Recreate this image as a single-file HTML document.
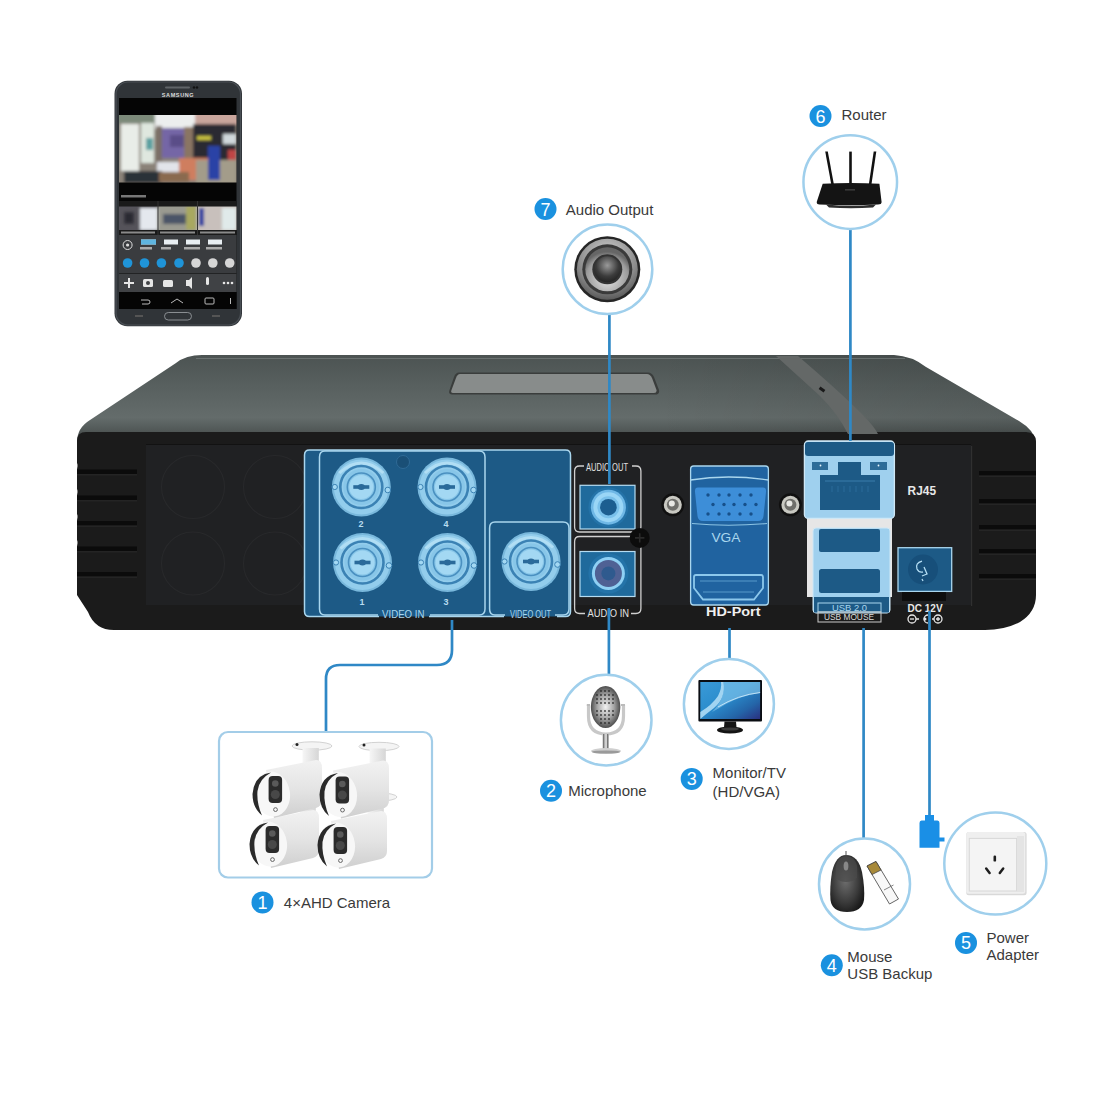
<!DOCTYPE html>
<html><head><meta charset="utf-8">
<style>
html,body{margin:0;padding:0;background:#fff;width:1100px;height:1100px;overflow:hidden}
svg{display:block}
text{font-family:"Liberation Sans",sans-serif}
</style></head>
<body>
<svg width="1100" height="1100" viewBox="0 0 1100 1100">
<defs>
  <linearGradient id="topg" x1="0" y1="0" x2="0" y2="1">
    <stop offset="0" stop-color="#4c5352"/>
    <stop offset="0.3" stop-color="#565e5d"/>
    <stop offset="0.72" stop-color="#646c6b"/>
    <stop offset="0.86" stop-color="#525958"/>
    <stop offset="1" stop-color="#3c4141"/>
  </linearGradient>
  <radialGradient id="bncg" cx="0.45" cy="0.4" r="0.6">
    <stop offset="0" stop-color="#c8e6f6"/>
    <stop offset="0.6" stop-color="#9fd0ec"/>
    <stop offset="1" stop-color="#7fb8dc"/>
  </radialGradient>
  <radialGradient id="spkg" cx="0.5" cy="0.35" r="0.7">
    <stop offset="0" stop-color="#9a9a9a"/>
    <stop offset="0.6" stop-color="#3c3c3c"/>
    <stop offset="1" stop-color="#1e1e1e"/>
  </radialGradient>
  <radialGradient id="spkring" cx="0.5" cy="0.3" r="0.7">
    <stop offset="0" stop-color="#d8d8d8"/>
    <stop offset="0.7" stop-color="#8a8a8a"/>
    <stop offset="1" stop-color="#5a5a5a"/>
  </radialGradient>
  <radialGradient id="spkring2" cx="0.5" cy="0.7" r="0.6">
    <stop offset="0" stop-color="#e6e6e6"/>
    <stop offset="0.8" stop-color="#9a9a9a"/>
    <stop offset="1" stop-color="#666"/>
  </radialGradient>
  <radialGradient id="micg" cx="0.5" cy="0.5" r="0.55">
    <stop offset="0" stop-color="#f2f2f2"/>
    <stop offset="0.5" stop-color="#a8a8a8"/>
    <stop offset="1" stop-color="#3a3a3a"/>
  </radialGradient>
  <linearGradient id="monig" x1="0" y1="0" x2="1" y2="1">
    <stop offset="0" stop-color="#3a9ad8"/>
    <stop offset="0.45" stop-color="#2a8ccc"/>
    <stop offset="0.75" stop-color="#2465a8"/>
    <stop offset="1" stop-color="#2a3080"/>
  </linearGradient>
  <radialGradient id="mouseg" cx="0.45" cy="0.45" r="0.6">
    <stop offset="0" stop-color="#6e6e6e"/>
    <stop offset="0.65" stop-color="#3a3a3a"/>
    <stop offset="1" stop-color="#1a1a1a"/>
  </radialGradient>
  <linearGradient id="camg" x1="0" y1="0" x2="0" y2="1">
    <stop offset="0" stop-color="#f2f2f2"/>
    <stop offset="0.5" stop-color="#e4e4e4"/>
    <stop offset="1" stop-color="#cfcfcf"/>
  </linearGradient>
  <linearGradient id="topdark" x1="0" y1="0" x2="1" y2="0">
    <stop offset="0" stop-color="#000" stop-opacity="0"/>
    <stop offset="0.6" stop-color="#000" stop-opacity="0"/>
    <stop offset="0.85" stop-color="#000" stop-opacity="0.08"/>
    <stop offset="1" stop-color="#000" stop-opacity="0.12"/>
  </linearGradient>
  <linearGradient id="armg" x1="0" y1="0" x2="1" y2="0">
    <stop offset="0" stop-color="#f6f6f6"/>
    <stop offset="1" stop-color="#d6d6d6"/>
  </linearGradient>
</defs>

<!-- ============ DVR BOX ============ -->
<g id="dvr">
  <!-- top surface -->
  <path d="M202,355 L894,355 Q912,356 926,367 L1019,421 Q1034,430 1036,442 L77,442 Q77,428 90,420 L176,363 Q186,355 202,355 Z" fill="url(#topg)"/>
  <path d="M202,355 L894,355 Q912,356 926,367 L1019,421 Q1034,430 1036,442 L77,442 Q77,428 90,420 L176,363 Q186,355 202,355 Z" fill="url(#topdark)"/>
  <path d="M196,358.5 L905,358.5" stroke="#828a89" stroke-width="1" opacity="0.55"/>
  <!-- front face -->
  <path d="M86,432 L1026,432 Q1036,432 1036,442 L1036,595 Q1036,612 1020,622 Q1005,630 985,630 L114,630 Q95,630 88,612 L77,595 L77,441 Q77,432 86,432 Z" fill="#1b1b1b"/>
  <!-- inner panel -->
  <rect x="146" y="444" width="825" height="161" fill="#202123"/>
  <rect x="146" y="444" width="825" height="1" fill="#121212"/>
  <!-- left vents -->
  <g fill="#0b0b0b">
    <rect x="77" y="469.5" width="60" height="4.5"/>
    <rect x="77" y="495.5" width="60" height="4.5"/>
    <rect x="77" y="521" width="60" height="4.5"/>
    <rect x="77" y="546.5" width="60" height="4.5"/>
    <rect x="77" y="572" width="60" height="4.5"/>
  </g>
  <g fill="#242424">
    <rect x="77" y="474" width="60" height="1.5"/>
    <rect x="77" y="500" width="60" height="1.5"/>
    <rect x="77" y="525.5" width="60" height="1.5"/>
    <rect x="77" y="551" width="60" height="1.5"/>
    <rect x="77" y="576.5" width="60" height="1.5"/>
  </g>
  <g fill="#fff">
    <path d="M76,461 Q79,466 76,471 Z"/>
    <path d="M76,487 Q79,492 76,497 Z"/>
    <path d="M76,512 Q79,517 76,522 Z"/>
    <path d="M76,538 Q79,543 76,548 Z"/>
  </g>
  <g fill="none" stroke="#28292b" stroke-width="1.1">
    <circle cx="193" cy="487" r="31.5"/>
    <circle cx="275" cy="487" r="31.5"/>
    <circle cx="193" cy="563.5" r="31.5"/>
    <circle cx="275" cy="563.5" r="31.5"/>
  </g>
  <rect x="971" y="446" width="1.2" height="160" fill="#303030"/>
  <g fill="#0b0b0b">
    <rect x="979" y="471" width="57" height="4.5"/>
    <rect x="979" y="499" width="57" height="4.5"/>
    <rect x="979" y="525" width="57" height="4.5"/>
    <rect x="979" y="549" width="57" height="4.5"/>
    <rect x="979" y="574" width="57" height="4.5"/>
  </g>
  <g fill="#252525">
    <rect x="979" y="475.5" width="57" height="1.5"/>
    <rect x="979" y="503.5" width="57" height="1.5"/>
    <rect x="979" y="529.5" width="57" height="1.5"/>
    <rect x="979" y="553.5" width="57" height="1.5"/>
    <rect x="979" y="578.5" width="57" height="1.5"/>
  </g>
  <!-- top vent -->
  <path d="M459,372.5 L648,372.5 Q652,372.5 654,377 L659,390 Q660,394.5 655,394.5 L452,394.5 Q448,394.5 449.5,390 L454,377 Q455.5,372.5 459,372.5 Z" fill="#3a3d3c"/>
  <path d="M460,374 L647,374 Q650,374 652,378 L656.5,390 Q657,393 654,393 L453,393 Q450.5,393 451.5,390 L456,378 Q457.5,374 460,374 Z" fill="#888c8b"/>
  <!-- diagonal stripe -->
  <path d="M776,356 L798,356 Q840,392 862,414 Q874,426 878,434 L848,434 Q838,414 820,396 Z" fill="#646867"/>
  <rect x="819" y="388" width="6" height="3" fill="#1a1a1a" transform="rotate(35 822 389.5)"/>

  <!-- VIDEO blue region -->
  <rect x="304.5" y="450" width="266" height="166.5" rx="5" fill="#1d5a86"/>
  <path d="M379,616.5 L309.5,616.5 Q304.5,616.5 304.5,611.5 L304.5,455 Q304.5,450 309.5,450 L565.5,450 Q570.5,450 570.5,455 L570.5,611.5 Q570.5,616.5 565.5,616.5 L557,616.5 M504,616.5 L429,616.5" fill="none" stroke="#a9d6ee" stroke-width="1.5"/>
  <path d="M378,615 L325,615 Q319.5,615 319.5,609 L319.5,457 Q319.5,451 325,451 L479,451 Q485,451 485,457 L485,609 Q485,615 479,615 L430,615" fill="none" stroke="#a9d6ee" stroke-width="1.5"/>
  <path d="M505,615 L495,615 Q489.6,615 489.6,609 L489.6,528 Q489.6,522 495,522 L563,522 Q569,522 569,528 L569,609 Q569,615 563,615 L555,615" fill="none" stroke="#a9d6ee" stroke-width="1.5"/>
  <defs>
  <g id="bncc">
    <circle r="29.5" fill="#79b8dc"/>
    <circle r="27.5" fill="#93cdec"/>
    <path d="M-22,-14 Q0,-34 22,-14" fill="none" stroke="#b9e2f6" stroke-width="3" opacity="0.8"/>
    <circle r="21" fill="none" stroke="#3b82b4" stroke-width="2.6"/>
    <circle r="18" fill="#88c6e8"/>
    <circle r="14" fill="none" stroke="#4a90c0" stroke-width="1.6"/>
    <circle r="12" fill="#a3d8f3"/>
    <rect x="-8" y="-1.8" width="16" height="3.6" fill="#2a6a9a"/>
    <ellipse rx="3.6" ry="3" fill="#2a6a9a"/>
    <circle cx="-26.5" cy="0" r="2.6" fill="#a3d8f3" stroke="#3b82b4" stroke-width="1"/>
    <circle cx="26.5" cy="3" r="2.8" fill="#a3d8f3" stroke="#3b82b4" stroke-width="1"/>
  </g>
  </defs>
  <circle cx="403" cy="462" r="6.5" fill="#1a4f76" stroke="#2f6a96" stroke-width="1"/>
  <use href="#bncc" x="361.3" y="487"/>
  <use href="#bncc" x="447" y="487"/>
  <use href="#bncc" x="362.5" y="562.5"/>
  <use href="#bncc" x="447.5" y="562.5"/>
  <use href="#bncc" x="531" y="561.5"/>
  <g fill="#b8dcf0" font-size="9" font-weight="bold" text-anchor="middle">
    <text x="361" y="526.5">2</text>
    <text x="446" y="526.5">4</text>
    <text x="362" y="604.5">1</text>
    <text x="446" y="604.5">3</text>
  </g>
  <g fill="#a9d6ee" font-size="10" text-anchor="middle">
    <text x="382" y="618" text-anchor="start" font-size="11" textLength="42.5" lengthAdjust="spacingAndGlyphs">VIDEO IN</text>
    <text x="510" y="618" text-anchor="start" font-size="11" textLength="41" lengthAdjust="spacingAndGlyphs">VIDEO OUT</text>
  </g>

  <!-- AUDIO -->
  <path d="M584,466 L579.6,466 Q574.6,466 574.6,471 L574.6,527 Q574.6,532 579.6,532 L635.9,532 Q640.9,532 640.9,527 L640.9,471 Q640.9,466 635.9,466 L632,466" fill="none" stroke="#d0d0d0" stroke-width="1.3"/>
  <path d="M585,613.5 L579.6,613.5 Q574.6,613.5 574.6,608.5 L574.6,541.5 Q574.6,536.5 579.6,536.5 L635.9,536.5 Q640.9,536.5 640.9,541.5 L640.9,608.5 Q640.9,613.5 635.9,613.5 L631,613.5" fill="none" stroke="#d0d0d0" stroke-width="1.3"/>
  <g fill="#e2e2e2" font-size="10.5" text-anchor="middle">
    <text x="586" y="470.5" text-anchor="start" textLength="42" lengthAdjust="spacingAndGlyphs">AUDIO OUT</text>
    <text x="587.4" y="617" text-anchor="start" textLength="41.6" lengthAdjust="spacingAndGlyphs">AUDIO IN</text>
  </g>
  <rect x="580" y="485.3" width="55" height="43.7" fill="#1f6a9c" stroke="#b5dcf2" stroke-width="1.2"/>
  <circle cx="608.4" cy="507.2" r="20" fill="#2473a8"/>
  <circle cx="608.4" cy="507.2" r="17.5" fill="#6fb8e6"/>
  <circle cx="608.4" cy="507.2" r="15" fill="#9ad6f6"/>
  <circle cx="608.4" cy="507.2" r="11" fill="#79c0ea"/>
  <circle cx="608.4" cy="507.2" r="8.3" fill="#1c5e90"/>
  <rect x="580" y="551.5" width="55" height="45" fill="#1f6a9c" stroke="#b5dcf2" stroke-width="1.2"/>
  <circle cx="608.4" cy="573.4" r="20" fill="#2473a8"/>
  <circle cx="608.4" cy="573.4" r="16.5" fill="#8fd0f4"/>
  <circle cx="608.4" cy="573.4" r="13.5" fill="#4f6194"/>
  <circle cx="608.4" cy="573.4" r="7" fill="#2f5a8e"/>
  <circle cx="639.7" cy="537.9" r="10" fill="#0c0c0c"/>
  <path d="M635,537.9 L644.4,537.9 M639.7,533.2 L639.7,542.6" stroke="#2a2a2a" stroke-width="1.6"/>
  <!-- nuts -->
  <circle cx="672.8" cy="504.8" r="11.5" fill="#101010"/>
  <circle cx="672.8" cy="504.8" r="9" fill="#c9c9c2"/>
  <circle cx="672.8" cy="504.8" r="6" fill="#6e6e6a"/>
  <circle cx="671.8" cy="503.5" r="3" fill="#e8e8e4"/>
  <circle cx="790.4" cy="504.8" r="11.5" fill="#101010"/>
  <circle cx="790.4" cy="504.8" r="9" fill="#c9c9c2"/>
  <circle cx="790.4" cy="504.8" r="6" fill="#6e6e6a"/>
  <circle cx="789.4" cy="503.5" r="3" fill="#e8e8e4"/>

  <!-- VGA / HDMI -->
  <rect x="690.6" y="466" width="77.8" height="139" rx="3" fill="#2063a0" stroke="#a9d6ee" stroke-width="1.3"/>
  <path d="M690.6,480 Q728,474 768.4,480" fill="none" stroke="#a9d6ee" stroke-width="1.4"/>
  <path d="M692,523.5 Q728,527 767,523.5" fill="none" stroke="#8cc4e4" stroke-width="1.2"/>
  <path d="M698,487.6 L763,487.6 Q766.5,487.6 766,492 L763.5,516 Q763,521 758,521 L703,521 Q698,521 697.5,516 L695,492 Q694.5,487.6 698,487.6 Z" fill="#3d8ed8"/>
  <g fill="#17508a">
    <circle cx="708" cy="495" r="1.7"/><circle cx="719" cy="495" r="1.7"/><circle cx="729" cy="495" r="1.7"/><circle cx="740" cy="495" r="1.7"/><circle cx="751" cy="495" r="1.7"/>
    <circle cx="713" cy="504.5" r="1.7"/><circle cx="724" cy="504.5" r="1.7"/><circle cx="734" cy="504.5" r="1.7"/><circle cx="745" cy="504.5" r="1.7"/><circle cx="756" cy="504.5" r="1.7"/>
    <circle cx="708" cy="514" r="1.7"/><circle cx="719" cy="514" r="1.7"/><circle cx="729" cy="514" r="1.7"/><circle cx="740" cy="514" r="1.7"/><circle cx="751" cy="514" r="1.7"/>
  </g>
  <text x="711.4" y="542" fill="#a9d6ee" font-size="13" textLength="29" lengthAdjust="spacingAndGlyphs">VGA</text>
  <path d="M696,575 L761,575 Q763,575 763,577 L763,588 L754,599.5 L703,599.5 L694,588 L694,577 Q694,575 696,575 Z" fill="none" stroke="#8cc8ec" stroke-width="1.8"/>
  <path d="M700,581 L757,581 M703,592 L754,592" stroke="#6fb0dc" stroke-width="1" opacity="0.7"/>
  <text x="706" y="615.6" fill="#f0f0f0" font-size="12" font-weight="bold" textLength="54.5" lengthAdjust="spacingAndGlyphs">HD-Port</text>

  <!-- RJ45 -->
  <rect x="807" y="518" width="85" height="79" fill="#e6e6e6"/>
  <rect x="804.4" y="441" width="90" height="77.4" rx="4" fill="#9fd0ee" stroke="#cfe8f6" stroke-width="1.3"/>
  <rect x="805" y="442" width="89" height="14" rx="3" fill="#1d5a86"/>
  <path d="M820,475 L838,475 L838,462 L861,462 L861,475 L880,475 L880,510 L820,510 Z" fill="#1d5a86"/>
  <rect x="812" y="462" width="16" height="8" fill="#2d6c98"/>
  <rect x="870" y="462" width="17" height="8" fill="#2d6c98"/>
  <circle cx="820.5" cy="465.5" r="0.9" fill="#e8f4fa"/>
  <circle cx="878.5" cy="465.5" r="0.9" fill="#e8f4fa"/>
  <path d="M825,481 L875,481" stroke="#3a7cab" stroke-width="1"/>
  <g stroke="#2e6e9e" stroke-width="0.8"><path d="M832,486 L832,492 M838,486 L838,492 M844,486 L844,492 M850,486 L850,492 M856,486 L856,492 M862,486 L862,492 M868,486 L868,492"/></g>
  <!-- USB -->
  <rect x="813" y="528" width="77" height="85" rx="3" fill="#9fd0ee" stroke="#cfe8f6" stroke-width="1"/>
  <rect x="819" y="529" width="61" height="23" rx="2" fill="#1d5a86"/>
  <rect x="819" y="569" width="61" height="24" rx="2.5" fill="#1d5a86"/>
  <rect x="814" y="597" width="75" height="15.5" fill="#1d5a86"/>
  <rect x="818" y="603" width="63" height="9" fill="none" stroke="#a9d6ee" stroke-width="1"/>
  <text x="832" y="611" fill="#a9d6ee" font-size="9.5" textLength="35" lengthAdjust="spacingAndGlyphs">USB 2.0</text>
  <rect x="818" y="612" width="63" height="10" fill="none" stroke="#cccccc" stroke-width="1"/>
  <text x="824" y="620.4" fill="#dddddd" font-size="9" textLength="50" lengthAdjust="spacingAndGlyphs">USB MOUSE</text>

  <text x="907.6" y="495" fill="#e8e8e8" font-size="12" font-weight="bold" textLength="28.4" lengthAdjust="spacingAndGlyphs">RJ45</text>
  <!-- power jack -->
  <rect x="898" y="547.7" width="53.7" height="43.7" fill="#1d5a86" stroke="#a9d6ee" stroke-width="1.3"/>
  <circle cx="923" cy="569.5" r="15" fill="#174f7a"/>
  <path d="M922,561 Q915,563 917,569 Q919,573 923,572 M924,567 L927,574 L922,576 M922,579 L923,581" stroke="#b5def4" stroke-width="1.3" fill="none"/>
  <rect x="902" y="592" width="44" height="9" fill="#0e0e0e"/>
  <text x="907.6" y="612" fill="#e8e8e8" font-size="10.5" font-weight="bold" textLength="35" lengthAdjust="spacingAndGlyphs">DC 12V</text>
  <g fill="none" stroke="#e8e8e8" stroke-width="1.3">
    <circle cx="912" cy="619" r="4"/><path d="M910,619 L914,619"/>
    <circle cx="938" cy="619" r="4"/><path d="M936,619 L940,619 M938,617 L938,621"/>
    <path d="M916,619 L919,619 M932,619 L934,619"/>
    <path d="M928,615 A4,4 0 1 0 928,623"/>
  </g>
  <circle cx="925" cy="619" r="1.5" fill="#e8e8e8"/>
</g>

<!-- ============ CONNECTION LINES ============ -->
<g stroke="#2f88c6" stroke-width="2.7" fill="none">
  <line x1="609.4" y1="313.5" x2="609.4" y2="484"/>
  <line x1="850.4" y1="229" x2="850.4" y2="441"/>
  <line x1="608.9" y1="608" x2="608.9" y2="675"/>
  <line x1="729.5" y1="628" x2="729.5" y2="659.5"/>
  <line x1="863.6" y1="628" x2="863.6" y2="838.5"/>
  <line x1="929.5" y1="611" x2="929.5" y2="817"/>
  <path d="M452,620 L452,650 Q452,665 437,665 L340,665 Q326,665 326,679 L326,731"/>
</g>
<!-- plug -->
<path d="M925,815 L934,815 L934,820.5 L937.5,820.5 Q939.5,820.5 939.5,823 L939.5,837.5 L944.5,837.5 L944.5,841.5 L939.5,841.5 L939.5,847.7 L919.5,847.7 L919.5,823 Q919.5,820.5 921.5,820.5 L925,820.5 Z" fill="#1a8fe6"/>

<!-- ============ CIRCLES ============ -->
<g fill="none" stroke="#9fcfec" stroke-width="2.5">
  <circle cx="607.5" cy="269.2" r="44.8"/>
  <circle cx="850.25" cy="182.1" r="46.8"/>
  <circle cx="606.2" cy="720.1" r="45.3"/>
  <circle cx="728.9" cy="703.9" r="45"/>
  <circle cx="864.5" cy="884" r="45.5"/>
  <circle cx="995.3" cy="863.5" r="51"/>
</g>
<rect x="219" y="732" width="213" height="145.5" rx="9" fill="none" stroke="#a3cde8" stroke-width="2.2"/>

<!-- ============ LABELS ============ -->
<g fill="#1a91df">
  <circle cx="545.5" cy="209" r="11"/>
  <circle cx="820.5" cy="116" r="11"/>
  <circle cx="262.5" cy="902.4" r="11"/>
  <circle cx="551" cy="790.8" r="11"/>
  <circle cx="691.7" cy="778.9" r="11"/>
  <circle cx="831.8" cy="965.3" r="11"/>
  <circle cx="966" cy="942.9" r="11"/>
</g>
<g fill="#fff" font-size="18" text-anchor="middle">
  <text x="545.5" y="215.5">7</text>
  <text x="820.5" y="122.5">6</text>
  <text x="262.5" y="908.9">1</text>
  <text x="551" y="797.3">2</text>
  <text x="691.7" y="785.4">3</text>
  <text x="831.8" y="971.8">4</text>
  <text x="966" y="949.4">5</text>
</g>
<g fill="#3a3a3a" font-size="15">
  <text x="565.8" y="214.7">Audio Output</text>
  <text x="841.5" y="120.4">Router</text>
  <text x="283.8" y="908.2">4×AHD Camera</text>
  <text x="568.3" y="796">Microphone</text>
  <text x="712.6" y="778">Monitor/TV</text>
  <text x="712.6" y="796.7">(HD/VGA)</text>
  <text x="847.3" y="961.8">Mouse</text>
  <text x="847.3" y="979">USB Backup</text>
  <text x="986.5" y="942.9">Power</text>
  <text x="986.5" y="960">Adapter</text>
</g>

<!-- ============ ICONS ============ -->
<!-- speaker -->
<g>
  <circle cx="607.3" cy="269.3" r="33" fill="#262626"/>
  <circle cx="607.3" cy="269.3" r="30.5" fill="url(#spkring)"/>
  <circle cx="607.3" cy="269.3" r="25" fill="#3a3a3a"/>
  <circle cx="607.3" cy="269.3" r="22" fill="url(#spkring2)"/>
  <circle cx="607.3" cy="269.3" r="15" fill="#333"/>
  <circle cx="607.3" cy="269.3" r="13" fill="url(#spkg)"/>
</g>
<!-- router -->
<g>
  <path d="M825.2,151.6 L827.8,151.6 L833.8,184 L831.2,184 Z" fill="#111"/>
  <path d="M849.2,151.6 L851.8,151.6 L851.8,184 L849.2,184 Z" fill="#111"/>
  <path d="M873.7,151.6 L876.3,151.6 L871.5,184 L868.9,184 Z" fill="#111"/>
  <path d="M822.7,183.8 Q851,182 879.4,183.8 L881.6,202 Q881.6,204.5 878,204.5 Q851,206 819.5,204.5 Q816.7,204.5 816.7,202 Z" fill="#141414"/>
  <path d="M826,204.5 Q851,207 876,204.5 L873,207.5 Q851,209 829,207.5 Z" fill="#2e2e2e"/>
  <rect x="845" y="189" width="10" height="1.6" fill="#3a3a3a"/>
</g>

<!-- phone -->
<g>
  <rect x="114.5" y="80.7" width="127.5" height="245.5" rx="13" fill="#303438"/>
  <rect x="116" y="82" width="124.5" height="243" rx="12" fill="none" stroke="#4a4f55" stroke-width="1.2"/>
  <rect x="119" y="98" width="117.5" height="211" fill="#050505"/>
  <!-- main video -->
  <clipPath id="vclip"><rect x="119" y="115" width="117.5" height="67.5"/></clipPath>
  <filter id="vblur" x="-5%" y="-5%" width="110%" height="110%"><feGaussianBlur stdDeviation="1.6"/></filter>
  <g clip-path="url(#vclip)"><g filter="url(#vblur)">
  <rect x="115" y="111" width="125" height="75" fill="#8a8278"/>
  <rect x="115" y="111" width="42" height="12" fill="#7c8a7a"/>
  <rect x="155" y="111" width="42" height="18" fill="#eceeee"/>
  <rect x="195" y="111" width="45" height="14" fill="#c9a59c"/>
  <rect x="121" y="124" width="18" height="47" fill="#e9ede8"/>
  <rect x="141" y="123" width="13" height="40" fill="#dfe7df"/>
  <rect x="146" y="138" width="7" height="12" fill="#5aa0a0"/>
  <rect x="156" y="126" width="6" height="40" fill="#7a6e66"/>
  <rect x="162" y="128" width="22" height="30" fill="#7566a6"/>
  <rect x="170" y="135" width="22" height="12" fill="#5a4e88"/>
  <rect x="184" y="127" width="10" height="35" fill="#8a7464"/>
  <rect x="193" y="124" width="43" height="36" fill="#2c2b30"/>
  <rect x="197" y="136" width="14" height="4" fill="#c8c040"/>
  <rect x="223" y="134" width="13" height="10" fill="#d0d8dc"/>
  <rect x="228" y="150" width="8" height="10" fill="#c04444"/>
  <rect x="157" y="162" width="22" height="12" fill="#e2e4ea"/>
  <rect x="179" y="158" width="30" height="22" fill="#cf7e5e"/>
  <rect x="196" y="160" width="40" height="24" fill="#a39c8a"/>
  <rect x="208" y="146" width="12" height="34" fill="#2c42a6"/>
  <rect x="124" y="171" width="38" height="12" fill="#2a3038"/>
  <rect x="159" y="172" width="30" height="10" fill="#8a6a50"/>
  </g></g>
  <!-- text -->
  <rect x="121" y="195" width="25" height="2.5" fill="#777"/>
  <!-- thumbnails -->
  <rect x="119" y="201" width="117.5" height="34" fill="#1a1a1a"/>
  <clipPath id="tclip"><rect x="119" y="206.5" width="117.5" height="23.5"/></clipPath>
  <g clip-path="url(#tclip)"><g filter="url(#vblur)">
  <rect x="115" y="204" width="45" height="30" fill="#55535a"/>
  <rect x="140" y="208" width="18" height="22" fill="#e4e8ee"/>
  <rect x="124" y="212" width="10" height="12" fill="#2a2a30"/>
  <rect x="157.5" y="204" width="40" height="30" fill="#9a9a90"/>
  <rect x="163" y="214" width="28" height="10" fill="#4c5468"/>
  <rect x="186" y="206" width="10" height="24" fill="#a8a860"/>
  <rect x="197" y="204" width="43" height="30" fill="#c8c0bc"/>
  <rect x="199" y="208" width="5" height="18" fill="#2a3ea0"/>
  <rect x="222" y="208" width="14" height="22" fill="#e0eaea"/>
  </g></g>
  <rect x="157.5" y="201" width="1" height="34" fill="#333"/>
  <rect x="197" y="201" width="1" height="34" fill="#333"/>
  <g fill="#8a8a8a"><rect x="121" y="231.5" width="34" height="2"/><rect x="160" y="231.5" width="35" height="2"/><rect x="200" y="231.5" width="35" height="2"/></g>
  
  <!-- controls -->
  <rect x="119" y="235" width="117.5" height="38" fill="#3a3c3f"/>
  <circle cx="127.6" cy="245" r="4.5" fill="none" stroke="#ddd" stroke-width="1"/>
  <circle cx="127.6" cy="245" r="1.6" fill="#ddd"/>
  <g fill="#e8eef2">
    <rect x="141" y="239.5" width="15" height="5"/>
    <rect x="164" y="239.5" width="14" height="5"/>
    <rect x="186" y="239.5" width="14" height="5"/>
    <rect x="208" y="239.5" width="14" height="5"/>
  </g>
  <rect x="141" y="239.5" width="15" height="5" fill="#5fb5e0"/>
  <g fill="#aaa">
    <rect x="140" y="247" width="12" height="2.5"/>
    <rect x="161" y="247" width="10" height="2.5"/>
    <rect x="184" y="247" width="16" height="2.5"/>
    <rect x="206" y="247" width="16" height="2.5"/>
  </g>
  <g fill="#1f94d8">
    <circle cx="127.6" cy="263" r="4.8"/>
    <circle cx="144.5" cy="263" r="4.8"/>
    <circle cx="161.4" cy="263" r="4.8"/>
    <circle cx="179" cy="263" r="4.8"/>
  </g>
  <g fill="#d6d6d6">
    <circle cx="196" cy="263" r="4.8"/>
    <circle cx="212.8" cy="263" r="4.8"/>
    <circle cx="229.7" cy="263" r="4.8"/>
  </g>
  <!-- toolbar -->
  <rect x="119" y="273.5" width="117.5" height="18.5" fill="#404245"/>
  <g fill="#e6e6e6">
    <rect x="124" y="282" width="10" height="2"/><rect x="128" y="278" width="2" height="10"/>
    <rect x="143" y="279" width="10" height="8" rx="1.5"/>
    <rect x="163" y="280" width="10" height="7" rx="1.5"/>
    <path d="M186,280 L189,280 L192,277 L192,289 L189,286 L186,286 Z"/>
    <rect x="206" y="277" width="3" height="8" rx="1.5"/>
    <circle cx="224" cy="283" r="1.3"/><circle cx="228" cy="283" r="1.3"/><circle cx="232" cy="283" r="1.3"/>
  </g>
  <circle cx="148" cy="283" r="2" fill="#404245"/>
  <!-- nav -->
  <rect x="119" y="292" width="117.5" height="17" fill="#050505"/>
  <g fill="none" stroke="#bbb" stroke-width="1">
    <path d="M141,300 L148,300 Q150,300 150,302 Q150,304 148,304 L142,304"/>
    <path d="M171,303 L177,299 L183,303"/>
    <rect x="205" y="298" width="9" height="6" rx="1"/>
  </g>
  <rect x="230" y="298" width="1" height="6" fill="#bbb"/>
  <!-- top -->
  <rect x="165" y="86.5" width="25" height="2" rx="1" fill="#606468"/>
  <circle cx="194" cy="87.5" r="1.2" fill="#111"/><circle cx="197" cy="87.5" r="1.2" fill="#111"/>
  <text x="178" y="97" fill="#dcdcdc" font-size="5.5" font-weight="bold" text-anchor="middle" letter-spacing="0.6">SAMSUNG</text>
  <rect x="164.5" y="312.5" width="27" height="7.5" rx="3.75" fill="none" stroke="#8a8e92" stroke-width="1"/>
  <rect x="135" y="315" width="8" height="2" fill="#555"/>
  <rect x="212" y="315" width="8" height="2" fill="#555"/>
</g>

<!-- microphone -->
<g>
  <path d="M588.5,705 L588.5,716 Q588.5,734 606,734 Q623.5,734 623.5,716 L623.5,705" fill="none" stroke="#c8c8c8" stroke-width="3.2"/>
  <ellipse cx="605.6" cy="707" rx="14.7" ry="21" fill="url(#micg)"/>
  <g fill="#222" opacity="0.85">
    <circle cx="601" cy="691" r="0.9"/><circle cx="605" cy="691" r="0.9"/><circle cx="609" cy="691" r="0.9"/>
    <circle cx="597" cy="695" r="0.9"/><circle cx="601" cy="695" r="0.9"/><circle cx="605" cy="695" r="0.9"/><circle cx="609" cy="695" r="0.9"/><circle cx="613" cy="695" r="0.9"/>
    <circle cx="597" cy="699" r="0.9"/><circle cx="601" cy="699" r="0.9"/><circle cx="605" cy="699" r="0.9"/><circle cx="609" cy="699" r="0.9"/><circle cx="613" cy="699" r="0.9"/>
    <circle cx="597" cy="703" r="0.9"/><circle cx="601" cy="703" r="0.9"/><circle cx="605" cy="703" r="0.9"/><circle cx="609" cy="703" r="0.9"/><circle cx="613" cy="703" r="0.9"/>
    <circle cx="597" cy="711" r="0.9"/><circle cx="601" cy="711" r="0.9"/><circle cx="605" cy="711" r="0.9"/><circle cx="609" cy="711" r="0.9"/><circle cx="613" cy="711" r="0.9"/>
    <circle cx="597" cy="715" r="0.9"/><circle cx="601" cy="715" r="0.9"/><circle cx="605" cy="715" r="0.9"/><circle cx="609" cy="715" r="0.9"/><circle cx="613" cy="715" r="0.9"/>
    <circle cx="601" cy="719" r="0.9"/><circle cx="605" cy="719" r="0.9"/><circle cx="609" cy="719" r="0.9"/>
    <circle cx="601" cy="723" r="0.9"/><circle cx="605" cy="723" r="0.9"/><circle cx="609" cy="723" r="0.9"/>
  </g>
  <path d="M586.8,705 L590,705 M621,705 L625,705" stroke="#bbb" stroke-width="2"/>
  <rect x="602.3" y="734" width="6.6" height="15" fill="#d0d0d0"/>
  <rect x="603" y="734" width="1.4" height="15" fill="#777"/>
  <rect x="607" y="734" width="1.4" height="15" fill="#777"/>
  <ellipse cx="606" cy="751" rx="15" ry="3" fill="#cfcfcf"/>
  <ellipse cx="606" cy="752" rx="14" ry="1.6" fill="#9a9a9a"/>
</g>
<!-- monitor -->
<g>
  <rect x="698.4" y="680" width="63.6" height="41.5" rx="1" fill="#0a0d12"/>
  <rect x="700.3" y="682" width="59.8" height="37" fill="url(#monig)"/>
  <path d="M723.5,682 Q726,698 714,708 Q706,714 700.3,719 L700.3,712 Q712,705 718,696 Q722,688 721,682 Z" fill="#bfe6fa" opacity="0.8"/>
  <path d="M723.5,682 L760.1,682 L760.1,693 Q740,696 726,704 Q716,710 712,712 Q726,698 723.5,682 Z" fill="#8fd0f2" opacity="0.55"/>
  <path d="M760.1,692.5 Q738,695 718,707" fill="none" stroke="#d8f0fc" stroke-width="1" opacity="0.8"/>
  <path d="M724.5,721.5 L736,721.5 L736.5,727.5 L724,727.5 Z" fill="#161616"/>
  <ellipse cx="730" cy="730" rx="13" ry="3.6" fill="#141414"/>
  <ellipse cx="730" cy="729" rx="9" ry="1.6" fill="#3a3a3a"/>
</g>
<!-- mouse -->
<g>
  <path d="M846,855 Q858,855 862,872 Q865,888 864,900 Q862,912 847,912 Q832,912 830.5,900 Q829.5,888 832,872 Q836,855 846,855 Z" fill="url(#mouseg)"/>
  <path d="M846,856 Q855,856 857,866 L857,878 Q852,882 846,882 Q840,882 836,878 L836,866 Q838,856 846,856 Z" fill="#4a4a4a" opacity="0.7"/>
  <ellipse cx="846" cy="866" rx="2.4" ry="4.5" fill="#888"/>
  <path d="M846,851 L846,856" stroke="#555" stroke-width="1"/>
  <path d="M867,866 L876,861.5 L898.5,899 L889.5,904 Z" fill="#f8f8f8" stroke="#555" stroke-width="0.9"/>
  <path d="M867,866 L876,861.5 L881,870 L872,874.5 Z" fill="#a88a3a" stroke="#444" stroke-width="0.8"/>
  <path d="M884,890 L893.5,885" stroke="#777" stroke-width="0.9"/>
</g>
<!-- outlet -->
<g>
  <rect x="966.3" y="832" width="60.3" height="63.2" rx="2.5" fill="#d9d9d9"/>
  <rect x="966.3" y="832" width="59" height="61.8" rx="2.5" fill="#efefef"/>
  <rect x="969.3" y="838.4" width="47.3" height="52.6" fill="#f4f4f4" stroke="#d8d8d8" stroke-width="1"/>
  <rect x="1017" y="836" width="7" height="56" fill="#e4e4e4"/>
  <rect x="993.5" y="855.6" width="2.6" height="6" rx="1.2" fill="#1e1e1e"/>
  <path d="M986.2,868.5 L989.6,873" stroke="#1e1e1e" stroke-width="2.5" stroke-linecap="round"/>
  <path d="M1003.2,868.5 L999.8,873" stroke="#1e1e1e" stroke-width="2.5" stroke-linecap="round"/>
</g>
<!-- cameras -->
<defs>
  <g id="cam">
    <ellipse cx="312" cy="746" rx="20" ry="4.2" fill="#f4f4f4" stroke="#d2d2d2" stroke-width="1"/>
    <circle cx="297" cy="744.5" r="1.5" fill="#222"/>
    <rect x="302.6" y="748" width="16.2" height="24" fill="url(#armg)"/>
    <path d="M266,770 L316,760 Q322,760 322,768 L322,800 Q322,806 316,808 L274,818 Z" fill="url(#camg)"/>
    <ellipse cx="272" cy="794" rx="18" ry="22.5" fill="#f7f7f7" transform="rotate(-8 272 794)"/>
    <path d="M271,772.5 Q254,775 252.5,794 Q252.5,808 262,815.5 Q256.5,803 257.5,791 Q259,779 271,772.5 Z" fill="#2a2a2a"/>
    <rect x="268.6" y="776" width="13.5" height="27" rx="4" fill="#2b2b2b"/>
    <circle cx="275.3" cy="783.5" r="3.3" fill="#5a5a5a"/>
    <circle cx="275.3" cy="794.5" r="4.5" fill="#484848"/>
    <circle cx="275.5" cy="809.6" r="1.9" fill="none" stroke="#666" stroke-width="1"/>
  </g>
</defs>
<use href="#cam" transform="translate(-3,50)"/>
<use href="#cam" transform="translate(65,51)"/>
<use href="#cam"/>
<use href="#cam" transform="translate(67,0.5)"/>
</svg>
</body></html>
